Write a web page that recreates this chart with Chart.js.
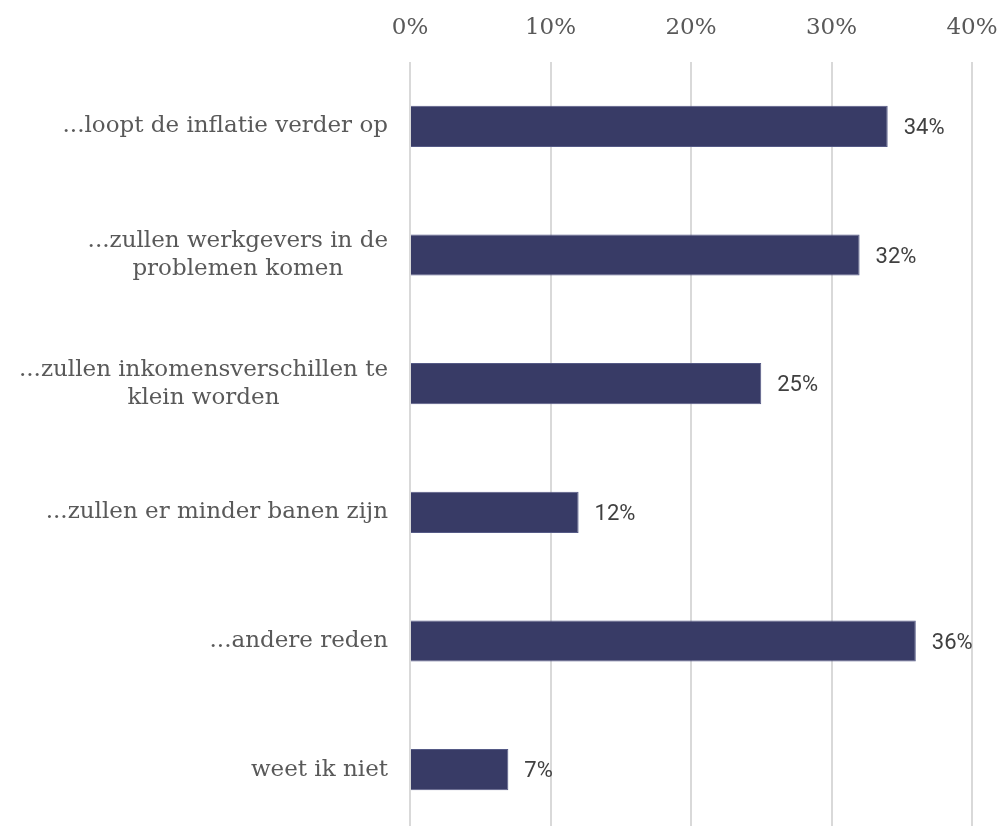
<!DOCTYPE html>
<html>
<head>
<meta charset="utf-8">
<script src="https://cdn.jsdelivr.net/npm/chart.js@4/dist/chart.umd.min.js"></script>
<style>
  html, body { margin: 0; padding: 0; background: #fff; overflow: hidden; }
</style>
</head>
<body>
<canvas id="myChart" width="1000" height="834"></canvas>
<script>
// answers (multi-line labels are arrays of lines)
const categories = [
  ["...loopt de inflatie verder op"],
  ["...zullen werkgevers in de", "problemen komen"],
  ["...zullen inkomensverschillen te", "klein worden"],
  ["...zullen er minder banen zijn"],
  ["...andere reden"],
  ["weet ik niet"],
];
const shares = [34, 32, 25, 12, 36, 7];
const tickValues = [0, 10, 20, 30, 40];

const labelFont = "23px 'DejaVu Serif', serif";
const valueFont = "22px Roboto, sans-serif";

// category labels: block right aligned, lines centred on each other
const categoryLabels = {
  id: "categoryLabels",
  afterDraw(chart) {
    const ctx = chart.ctx;
    const yScale = chart.scales.y;
    const right = chart.chartArea.left - 22;
    const lineH = 28;
    ctx.save();
    ctx.font = labelFont;
    ctx.fillStyle = "#595959";
    ctx.textAlign = "center";
    ctx.textBaseline = "middle";
    categories.forEach((lines, i) => {
      const w = Math.max(...lines.map(l => ctx.measureText(l).width));
      const cx = right - w / 2;
      const y0 = yScale.getPixelForTick(i) - (lines.length - 1) * lineH / 2;
      lines.forEach((l, j) => ctx.fillText(l, cx, y0 + j * lineH));
    });
    ctx.restore();
  }
};

// value labels just past the end of each bar
const valueLabels = {
  id: "valueLabels",
  afterDatasetsDraw(chart) {
    const ctx = chart.ctx;
    const meta = chart.getDatasetMeta(0);
    ctx.save();
    ctx.font = valueFont;
    ctx.fillStyle = "#404040";
    ctx.textAlign = "left";
    ctx.textBaseline = "middle";
    meta.data.forEach((bar, i) => {
      ctx.fillText(shares[i] + "%", bar.x + 16, bar.y + 2);
    });
    ctx.restore();
  }
};

new Chart("myChart", {
  type: "bar",
  data: {
    labels: categories,
    datasets: [{
      data: shares,
      backgroundColor: "#383b66",
      borderColor: "#555a86",
      borderWidth: 1,
      categoryPercentage: 1,
      barPercentage: 0.32,
    }],
  },
  options: {
    indexAxis: "y",
    responsive: false,
    animation: false,
    layout: { padding: 0 },
    plugins: {
      legend: { display: false },
      tooltip: { enabled: false },
    },
    scales: {
      x: {
        position: "top",
        min: 0,
        max: 40,
        afterBuildTicks: (scale) => {
          scale.ticks = tickValues.map(v => ({ value: v }));
        },
        afterFit: (scale) => {
          scale.height = 62;
          scale.paddingLeft = 0;
          scale.paddingRight = 28;
        },
        border: { display: false },
        grid: { color: "#d9d9d9", lineWidth: 2, drawTicks: false },
        ticks: {
          padding: 20,
          color: "#595959",
          font: { family: "'DejaVu Serif', serif", size: 23 },
          callback: (v) => v + "%",
        },
      },
      y: {
        afterFit: (scale) => { scale.width = 410; },
        border: { display: false },
        grid: { display: false },
        ticks: { display: false },
      },
    },
  },
  plugins: [categoryLabels, valueLabels],
});
</script>
</body>
</html>
